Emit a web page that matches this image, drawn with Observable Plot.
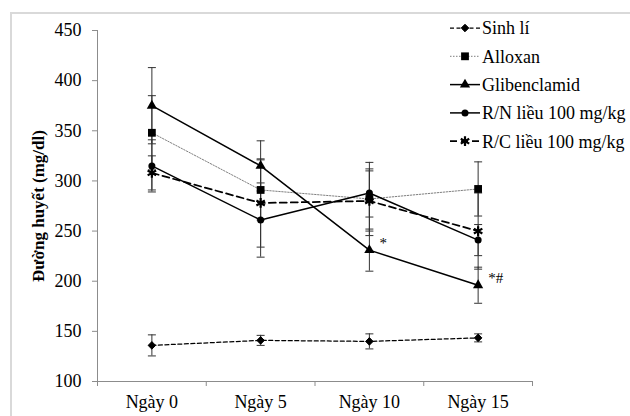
<!DOCTYPE html>
<html>
<head>
<meta charset="utf-8">
<script src="https://cdn.jsdelivr.net/npm/d3@7"></script>
<script src="https://cdn.jsdelivr.net/npm/@observablehq/plot@0.6"></script>
<style>
  body { margin: 0; background: #fff; }
  #wrap { position: relative; width: 630px; height: 416px; overflow: hidden; font-family: 'Liberation Serif', serif; }
  #frame { position: absolute; left: 10px; top: 12px; width: 640px; height: 420px; border: 2px solid #d9d9d9; }
  #chart { position: absolute; left: 0; top: 0; }
  #legend { position: absolute; left: 440px; top: 12px; }
</style>
</head>
<body>
<div id="wrap"><div id="frame"></div><div id="chart"></div><div id="legend"></div></div>
<script>
// ---- data ----
const days = ["Ngày 0", "Ngày 5", "Ngày 10", "Ngày 15"];
const yTicks = [100, 150, 200, 250, 300, 350, 400, 450];
const seriesNames = ["Sinh lí", "Alloxan", "Glibenclamid", "R/N liều 100 mg/kg", "R/C liều 100 mg/kg"];
const sinhLi = [136, 141, 140, 143.5];
const sinhLiErr = [10.5, 5, 7.5, 4];
const alloxan = [348, 291, 282, 292];
const alloxanErr = [37, 30, 36.5, 27];
const gliben = [375, 315, 231, 196];
const glibenErr = [38, 25, 21, 18];
const rn = [315, 261, 288, 241];
const rnErr = [26, 37, 24, 15.5];
const rc = [308, 278, 280, 250];
const rcErr = [17, 44, 30, 38];
const notes = [{day: 2, series: 2, text: "*"}, {day: 3, series: 2, text: "*#"}];

const values = [sinhLi, alloxan, gliben, rn, rc];
const errs = [sinhLiErr, alloxanErr, glibenErr, rnErr, rcErr];

// styles
const styles = [
  {stroke: "#000", sw: 1.25, dash: "4,2.5", symbol: "diamond2", r: 3.4, fill: "#000", mstroke: "#000", msw: 1},
  {stroke: "#7f7f7f", sw: 1, dash: "1.5,1.5", symbol: "square", r: 4.4, fill: "#000", mstroke: "none", msw: 0},
  {stroke: "#000", sw: 1.5, dash: null, symbol: "triangle", r: 3.8, fill: "#000", mstroke: "none", msw: 0},
  {stroke: "#000", sw: 1.5, dash: null, symbol: "circle", r: 3.5, fill: "#000", mstroke: "none", msw: 0},
  {stroke: "#000", sw: 1.75, dash: "7,4", symbol: "asterisk", r: 4.6, fill: "none", mstroke: "#000", msw: 2.2}
];

const rows = [];
values.forEach((vals, s) => vals.forEach((v, i) => rows.push({s, i, v, e: errs[s][i]})));

const cap = {draw(ctx, size) { const w = Math.sqrt(size / Math.PI); ctx.moveTo(-w, 0); ctx.lineTo(w, 0); }};
const gray = "#8c8c8c";
const fontName = "Liberation Serif";

const marks = [
  Plot.ruleY([100], {stroke: gray}),
  Plot.ruleX([-0.5], {stroke: gray}),
  Plot.axisY({ticks: yTicks, tickSize: 5, tickPadding: 11, stroke: gray, fill: "#000", fontSize: 18,
    label: "Đường huyết (mg/dl)", labelAnchor: "center", labelArrow: "none", labelOffset: 66}),
  Plot.axisX({ticks: [-0.5, 0.5, 1.5, 2.5, 3.5], tickFormat: () => "", tickSize: 5, stroke: gray, label: null}),
  Plot.axisX({ticks: [0, 1, 2, 3], tickFormat: i => days[i], tickSize: 0, tickPadding: 14, fill: "#000", fontSize: 18, label: null}),
  Plot.ruleX(rows, {x: "i", y1: d => d.v - d.e, y2: d => d.v + d.e, stroke: "#333", strokeWidth: 1}),
  Plot.dot(rows, {x: "i", y: d => d.v + d.e, symbol: cap, r: 4, stroke: "#333", strokeWidth: 1}),
  Plot.dot(rows, {x: "i", y: d => d.v - d.e, symbol: cap, r: 4, stroke: "#333", strokeWidth: 1})
];
styles.forEach((st, s) => {
  const data = rows.filter(d => d.s === s);
  marks.push(Plot.line(data, {x: "i", y: "v", stroke: st.stroke, strokeWidth: st.sw, strokeDasharray: st.dash}));
});
styles.forEach((st, s) => {
  const data = rows.filter(d => d.s === s);
  marks.push(Plot.dot(data, {x: "i", y: "v", symbol: st.symbol, r: st.r, fill: st.fill, stroke: st.mstroke, strokeWidth: st.msw}));
});
const noteRows = notes.map(n => ({i: n.day, v: values[n.series][n.day], text: n.text}));
marks.push(Plot.text(noteRows, {x: "i", y: "v", text: "text", textAnchor: "start", dx: 10, dy: -7, fontSize: 15, fill: "#000"}));

const chart = Plot.plot({
  width: 630, height: 416,
  marginLeft: 97, marginRight: 98, marginTop: 30, marginBottom: 35,
  style: {fontFamily: fontName, background: "transparent", color: "#000"},
  x: {type: "linear", domain: [-0.5, 3.5], axis: null},
  y: {domain: [100, 450], axis: null},
  marks
});
d3.select(chart).attr("font-family", fontName);
d3.select(chart).selectAll("text").attr("font-family", fontName);
d3.select(chart).selectAll('g[aria-label="y-axis label"] text').attr("font-weight", "bold").attr("font-size", 17);
document.getElementById("chart").appendChild(chart);

// ---- legend ----
const lg = d3.select("#legend").append("svg").attr("width", 190).attr("height", 150)
  .attr("font-family", fontName).style("overflow", "visible");
const symMap = {diamond2: d3.symbolDiamond2, square: d3.symbolSquare, triangle: d3.symbolTriangle, circle: d3.symbolCircle, asterisk: d3.symbolAsterisk};
seriesNames.forEach((name, s) => {
  const st = styles[s];
  const y = 16 + s * 28.3;
  const g = lg.append("g").attr("transform", `translate(0,${y})`);
  g.append("line").attr("x1", 10).attr("x2", 40).attr("y1", 0).attr("y2", 0)
    .attr("stroke", st.stroke).attr("stroke-width", st.sw).attr("stroke-dasharray", st.dash);
  g.append("path").attr("transform", "translate(25,0)")
    .attr("d", d3.symbol(symMap[st.symbol], Math.PI * st.r * st.r)())
    .attr("fill", st.fill).attr("stroke", st.mstroke).attr("stroke-width", st.msw);
  g.append("text").attr("x", 42).attr("y", 0).attr("dy", "0.35em").attr("font-size", 18)
    .attr("font-family", fontName).attr("fill", "#000").text(name);
});
</script>
</body>
</html>
